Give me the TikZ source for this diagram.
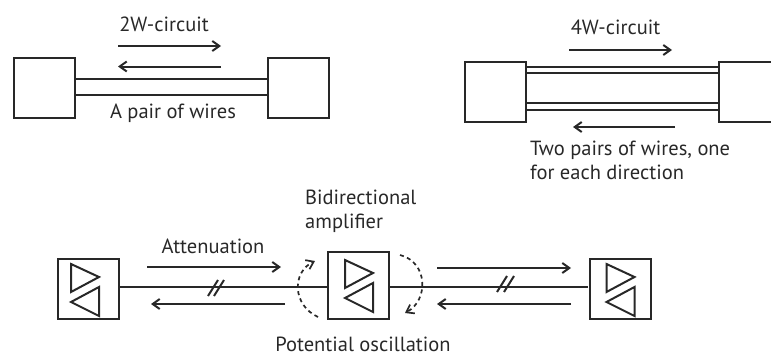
\documentclass[tikz,border=0pt]{standalone}
\usepackage{fontspec}
\setmainfont{PT Sans}
\usepackage{xcolor}
\usetikzlibrary{arrows.meta}
\definecolor{inkgray}{RGB}{40,40,40}
\tikzset{
  % 基础盒子
  box/.style={draw=inkgray, line width=2pt, minimum width=61pt, minimum height=60pt, outer sep=0pt},
  % 线路
  wire/.style={draw=inkgray, line width=2pt},
  % 箭头样式
  arr/.style={-{Straight Barb[length=7pt,width=10pt]}, line width=2pt, inkgray},
  loopback/.style={arr, line width=1.7pt, dashed, dash pattern=on 4pt off 3.5pt},
  lab/.style={font=\fontsize{20.5}{24}\selectfont, text=inkgray, inner sep=0pt, anchor=base},
  pics/amptri/.style={code={
    \draw[wire] (-14,-26) -- (14,-13) -- (-14,2) -- cycle;
    \draw[wire] (14,-3) -- (-14,12) -- (14,26) -- cycle;
  }},
}
\begin{document}
\begin{tikzpicture}[x=1pt,y=-1pt]
    \useasboundingbox (0,0) rectangle (771,356);

    % 2W circuit
    \node[box] (twoL) at (44.5,88) {};
    \node[box] (twoR) at (298.5,88) {};
    \foreach \y in {78.5,94.5} {
        \draw[wire] (twoL.east |- 0,\y) -- (twoR.west |- 0,\y);
    }
    \coordinate (twoA) at (118,46);
    \coordinate (twoB) at (221,46);
    \coordinate (twoC) at (221,66.5);
    \coordinate (twoD) at (118,66.5);
    \draw[arr] (twoA) -- (twoB);
    \draw[arr] (twoC) -- (twoD);
    \node[lab] (twoTitle) at (164,31) {2W-circuit};
    \node[lab] (twoText) at (173,118) {A pair of wires};

    % 4W circuit
    \node[box] (fourL) at (495.5,92) {};
    \node[box] (fourR) at (749.5,92) {};
    \foreach \y in {66.5,73,102.5,109.5} {
        \draw[wire] (fourL.east |- 0,\y) -- (fourR.west |- 0,\y);
    }
    \coordinate (fourA) at (569,50);
    \coordinate (fourB) at (672,50);
    \coordinate (fourC) at (675,127);
    \coordinate (fourD) at (573,127);
    \draw[arr] (fourA) -- (fourB);
    \draw[arr] (fourC) -- (fourD);
    \node[lab] (fourTitle) at (615.5,34) {4W-circuit};
    \node[lab, anchor=north west, align=left] (fourText) at (530,141) {Two pairs of wires, one\\for each direction};

    % Amplifier chain
    \node[box] (ampL) at (88.5,288.5) {};
    \node[box, minimum height=67pt] (ampM) at (358.5,285.5) {};
    \node[box] (ampR) at (620,288.5) {};
    \pic at (85,290) {amptri};
    \pic at (359,286) {amptri};
    \pic at (620.5,290) {amptri};
    \draw[wire] (ampL.east |- 0,287) -- (ampM.west |- 0,287);
    \draw[wire, shorten >=2pt] (ampM.east |- 0,287) -- (ampR.west |- 0,287);

    % Double slashes
    \foreach \x/\y in {208/296, 214/296, 497/292, 504/292} {
        \draw[wire] (\x,\y) -- (\x+10,\y-16);
    }

    % Signal arrows
    \coordinate (attA) at (147,267);
    \coordinate (attB) at (281,267);
    \coordinate (attC) at (285,304);
    \coordinate (attD) at (151,304);
    \coordinate (attE) at (437,268);
    \coordinate (attF) at (571,268);
    \coordinate (attG) at (571,304);
    \coordinate (attH) at (437,304);
    \foreach \a/\b in {attA/attB, attC/attD, attE/attF, attG/attH} {
        \draw[arr] (\a) -- (\b);
    }

    % Oscillation paths
    \coordinate (oscA) at (318,317);
    \coordinate (oscB) at (315,261);
    \coordinate (oscC) at (400,255);
    \coordinate (oscD) at (405,313);
    \draw[loopback] (oscA) .. controls (292,305) and (292,272) .. (oscB);
    \draw[loopback] (oscC) .. controls (428,262) and (429,300) .. (oscD);

    % Labels
    \node[lab] (attText) at (213,253) {Attenuation};
    \node[lab, anchor=north west, align=left] (ampText) at (305,190) {Bidirectional\\amplifier};
    \node[lab] (oscText) at (363,351) {Potential oscillation};
\end{tikzpicture}
\end{document}
